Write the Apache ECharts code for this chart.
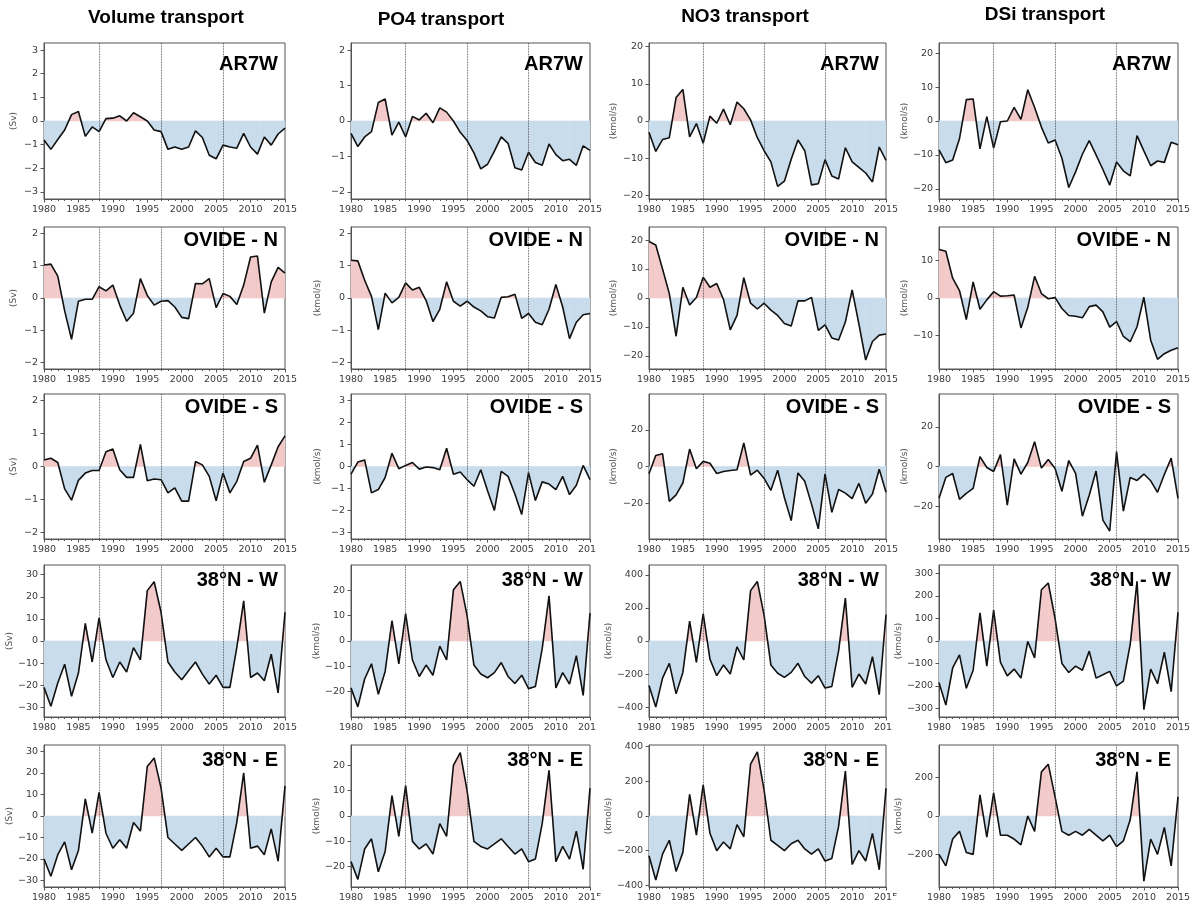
<!DOCTYPE html>
<html><head><meta charset="utf-8">
<script src="https://cdn.jsdelivr.net/npm/echarts@6/dist/echarts.min.js"></script>
<style>html,body{margin:0;padding:0;background:#fff}#c{width:1195px;height:903px}</style>
</head><body><div id="c"></div>
<script>
// ---------- DATA ----------
const years = [1980,1981,1982,1983,1984,1985,1986,1987,1988,1989,1990,1991,1992,1993,1994,1995,1996,1997,1998,1999,2000,2001,2002,2003,2004,2005,2006,2007,2008,2009,2010,2011,2012,2013,2014,2015];
const columnTitles = ['Volume transport','PO4 transport','NO3 transport','DSi transport'];
const sectionNames = ['AR7W','OVIDE - N','OVIDE - S','38°N - W','38°N - E'];
const unitNames = ['(Sv)','(kmol/s)','(kmol/s)','(kmol/s)'];
const periodYears = [1988,1997,2006];

// AR7W
const volAR7W = [-0.8,-1.2,-0.78,-0.38,0.27,0.4,-0.65,-0.25,-0.45,0.1,0.12,0.22,0.0,0.35,0.18,0.0,-0.38,-0.45,-1.2,-1.1,-1.2,-1.1,-0.42,-0.7,-1.45,-1.6,-1.02,-1.1,-1.15,-0.52,-1.1,-1.4,-0.68,-1.02,-0.55,-0.3];
const po4AR7W = [-0.35,-0.72,-0.45,-0.3,0.52,0.62,-0.4,-0.03,-0.45,0.13,0.03,0.22,-0.05,0.37,0.25,0.0,-0.32,-0.55,-0.9,-1.35,-1.22,-0.85,-0.45,-0.63,-1.32,-1.38,-0.88,-1.17,-1.25,-0.65,-0.95,-1.12,-1.08,-1.25,-0.7,-0.83];
const no3AR7W = [-3,-8.2,-5,-4.5,6.3,8.5,-4.3,-0.7,-6,1.3,-0.6,3.2,-1,5.1,3.3,0.3,-4.5,-8,-11,-17.6,-16.2,-10.3,-5.1,-8,-17.2,-16.9,-10.4,-14.8,-15.6,-7.2,-11,-12.5,-14,-16.4,-7,-10.6];
const dsiAR7W = [-8.5,-12.3,-11.5,-5.2,6.3,6.5,-8.2,1.3,-8,-0.2,0.0,4.0,0.5,9.2,4.0,-1.8,-6.5,-5.6,-11,-19.6,-15,-9.8,-5.8,-10,-14.3,-18.9,-12.1,-14.7,-16.2,-4.3,-8.8,-13.2,-11.8,-12.2,-6.3,-7];
// OVIDE - N
const volOVN = [1.02,1.05,0.68,-0.4,-1.28,-0.1,-0.04,-0.04,0.35,0.22,0.4,-0.22,-0.72,-0.47,0.6,0.08,-0.22,-0.1,-0.08,-0.28,-0.6,-0.64,0.45,0.44,0.6,-0.3,0.14,0.05,-0.2,0.4,1.27,1.3,-0.47,0.5,0.95,0.77];
const po4OVN = [1.17,1.15,0.55,0.05,-0.98,0.15,-0.15,0.02,0.47,0.25,0.33,-0.08,-0.73,-0.35,0.5,-0.1,-0.25,-0.1,-0.28,-0.4,-0.58,-0.62,0.02,0.04,0.12,-0.63,-0.48,-0.75,-0.83,-0.35,0.42,-0.28,-1.26,-0.75,-0.52,-0.48];
const no3OVN = [19.5,18.3,10,1.5,-13.2,3.7,-2.4,0.2,7.2,3.7,5,-0.5,-11,-6,7,-1.8,-3.8,-1.8,-4.2,-6,-8.8,-9.7,-1,-1,0.2,-11.2,-9.3,-13.8,-14.5,-8.3,2.8,-9,-21.4,-15,-12.8,-12.4];
const dsiOVN = [13,12.5,5.3,2,-5.8,4.3,-3,-0.5,1.7,0.5,0.6,0.8,-8,-2.5,5.8,1.2,-0.2,0.1,-2.8,-4.7,-4.9,-5.3,-2.3,-1.9,-3.7,-7.8,-6.3,-10.3,-11.7,-7.7,0.2,-11.3,-16.4,-14.9,-14,-13.3];
// OVIDE - S
const volOVS = [0.2,0.25,0.12,-0.68,-1.02,-0.42,-0.2,-0.12,-0.12,0.45,0.53,-0.1,-0.33,-0.33,0.67,-0.43,-0.38,-0.4,-0.8,-0.65,-1.05,-1.05,0.15,0.05,-0.3,-1.04,-0.2,-0.8,-0.45,0.15,0.25,0.65,-0.48,0.05,0.6,0.93];
const po4OVS = [-0.35,0.2,0.3,-1.2,-1.05,-0.5,0.6,-0.1,0.05,0.18,-0.12,-0.02,-0.05,-0.15,0.83,-0.35,-0.25,-0.6,-0.9,-0.15,-1.1,-2.0,-0.22,-0.45,-1.25,-2.18,-0.28,-1.55,-0.7,-0.8,-1.05,-0.45,-1.28,-0.85,0.05,-0.6];
const no3OVS = [-4,6,7,-19,-15.5,-9,9.5,-1.2,2.8,1.8,-3.8,-2.7,-2.2,-1.8,12.8,-4.7,-2,-6.5,-13,-2,-17,-29.5,-3.5,-8,-20.5,-34,-4,-25,-12.5,-14.5,-17.5,-9.2,-20,-15,-1.5,-14];
const dsiOVS = [-16,-5.5,-3.5,-16.5,-13.5,-11,5,-0.5,-2.5,6,-19.5,3.8,-3.8,2,12.5,-0.8,3.5,-1,-12.5,3,-3.5,-25,-14.5,-2.3,-27,-32.5,7.5,-22.5,-5.5,-7,-3.8,-7.2,-13,-4,4.2,-16];
// 38°N - W
const vol38W = [-21,-29.5,-19,-10.5,-25,-14.5,8,-9.5,10.5,-8.5,-16.5,-9.5,-14,-3,-8.5,22.8,26.8,13,-9.5,-14,-17.5,-13.5,-9.5,-15,-19.5,-15.5,-21,-21,-3,18.2,-16.5,-14.5,-18,-6,-23.5,13];
const po438W = [-18.5,-26,-15,-9,-21,-12,8,-9,10.8,-7.5,-14,-9.5,-13.5,-2,-7.5,20.2,23.5,10,-9.5,-13,-14.5,-12.5,-8.5,-14,-16.8,-13.5,-18.8,-18,-3,17.8,-18.5,-12.5,-17,-5.8,-21.5,11];
const no338W = [-270,-400,-225,-135,-320,-190,120,-130,165,-110,-210,-145,-200,-35,-115,305,360,155,-145,-195,-220,-190,-135,-215,-255,-210,-285,-275,-60,260,-280,-200,-260,-95,-325,160];
const dsi38W = [-185,-285,-120,-62,-210,-130,125,-112,137,-95,-155,-125,-165,-2,-75,228,258,100,-100,-140,-112,-130,-45,-165,-150,-135,-200,-178,-15,265,-305,-125,-190,-50,-225,128];
// 38°N - E
const vol38E = [-20,-28,-18,-12,-25,-16,8,-8,11,-8,-15,-11,-15,-3,-7,23,27,13,-10,-13,-16,-13,-10,-14,-19,-15,-19,-19,-3,20,-15,-14,-18,-6,-21,14];
const po438E = [-18,-25,-13,-9,-22,-14,8,-8,12,-10,-13,-11,-15,-3,-8,20,25,10,-10,-12,-13,-11,-9,-12,-15,-13,-18,-17,-3,18,-18,-12,-17,-6,-21,11];
const no338E = [-230,-370,-220,-140,-320,-210,125,-110,180,-100,-200,-150,-190,-50,-120,300,370,150,-140,-170,-200,-160,-140,-190,-220,-190,-260,-245,-60,260,-280,-200,-260,-100,-310,160];
const dsi38E = [-200,-260,-120,-80,-190,-200,110,-110,120,-100,-100,-120,-150,0,-80,230,270,100,-80,-100,-80,-100,-70,-100,-130,-100,-160,-130,-20,230,-340,-120,-200,-60,-260,100];

// y-axis ranges and tick labels (row by row)
const yRanges = [
  [-3.3,3.3],[-2.2,2.2],[-21,21],[-23,23],
  [-2.2,2.2],[-2.2,2.2],[-24.5,24.5],[-19,19],
  [-2.2,2.2],[-3.3,3.3],[-39.5,39.5],[-36.5,36.5],
  [-34.4,34.4],[-30,30],[-460,460],[-338,338],
  [-33,33],[-28,28],[-410,410],[-370,370]
];
const yTickLabels = [
  [-3,-2,-1,0,1,2,3],[-2,-1,0,1,2],[-20,-10,0,10,20],[-20,-10,0,10,20],
  [-2,-1,0,1,2],[-2,-1,0,1,2],[-20,-10,0,10,20],[-10,0,10],
  [-2,-1,0,1,2],[-3,-2,-1,0,1,2,3],[-20,0,20],[-20,0,20],
  [-30,-20,-10,0,10,20,30],[-20,-10,0,10,20],[-400,-200,0,200,400],[-300,-200,-100,0,100,200,300],
  [-30,-20,-10,0,10,20,30],[-20,-10,0,10,20],[-400,-200,0,200,400],[-200,0,200]
];
const panelSeries = [
  volAR7W, po4AR7W, no3AR7W, dsiAR7W,
  volOVN, po4OVN, no3OVN, dsiOVN,
  volOVS, po4OVS, no3OVS, dsiOVS,
  vol38W, po438W, no338W, dsi38W,
  vol38E, po438E, no338E, dsi38E
];
const showUnit = [
  true,false,true,true,
  true,true,true,true,
  true,true,true,true,
  true,true,true,true,
  true,true,true,true
];

// ---------- LAYOUT ----------
const colX = [[44,285],[351,590],[649,886],[939,1178]];
const rowY = [[43,199],[227,369],[394,539],[565,717],[745,893]];
const labelDy = [21,13,13,15,15];
const nameGaps = [26,29,31,29];
const titleX = [166,441,745,1045];
const titleY = [18,20,17,15];
const PINK = '#f3caca';
const BLUE = '#c8dcec';
const AXC = '#555';
const TXT = '#3a3a3a';
const fmt = v => String(v).replace('-', '\u2212');

function piece(points, v) {
  const col = v > 0 ? PINK : BLUE;
  return {type: 'polygon', shape: {points}, style: {fill: col, stroke: col, lineWidth: 0.6}};
}

const grids = [], xAxes = [], yAxes = [], series = [], graphics = [];
for (let r = 0; r < 5; r++) {
  for (let c = 0; c < 4; c++) {
    const i = r * 4 + c;
    const vals = panelSeries[i];
    const [x0, x1] = colX[c];
    const [y0, y1] = rowY[r];
    grids.push({left: x0, top: y0, width: x1 - x0, height: y1 - y0,
      show: true, borderColor: AXC, borderWidth: 1});
    xAxes.push({type: 'value', gridIndex: i, min: 1980, max: 2015, interval: 5,
      axisLine: {show: true, onZero: false, lineStyle: {color: AXC, width: 1}},
      axisTick: {show: true, length: 3.5, lineStyle: {color: AXC}},
      minorTick: {show: true, splitNumber: 5, length: 2, lineStyle: {color: AXC}},
      splitLine: {show: false},
      axisLabel: {fontFamily: 'DejaVu Sans', fontSize: 9.5, color: TXT, margin: 6,
        formatter: v => String(v), showMinLabel: true, showMaxLabel: true}
    });
    const ticks = yTickLabels[i];
    yAxes.push({type: 'value', gridIndex: i, min: yRanges[i][0], max: yRanges[i][1],
      name: showUnit[i] ? unitNames[c] : '', nameLocation: 'middle', nameGap: nameGaps[c],
      nameTextStyle: {fontFamily: 'DejaVu Sans', fontSize: 9, color: '#555'},
      axisLine: {show: true, onZero: false, lineStyle: {color: AXC, width: 1}},
      axisTick: {show: true, length: 3.5, customValues: ticks, lineStyle: {color: AXC}},
      splitLine: {show: false},
      axisLabel: {customValues: ticks, fontFamily: 'DejaVu Sans', fontSize: 9.5, color: TXT, margin: 6, formatter: fmt}
    });
    // shaded area between the curve and zero: pink above, blue below
    series.push({
      type: 'custom', xAxisIndex: i, yAxisIndex: i, z: 2, silent: true, clip: true,
      data: years.map((y, k) => [y, vals[k]]),
      encode: {x: 0, y: 1},
      renderItem: (params, api) => {
        const k = params.dataIndex;
        if (k >= years.length - 1) return null;
        const v0 = vals[k], v1 = vals[k + 1];
        const p0 = api.coord([years[k], v0]);
        const p1 = api.coord([years[k + 1], v1]);
        const b0 = api.coord([years[k], 0]);
        const b1 = api.coord([years[k + 1], 0]);
        if ((v0 >= 0 && v1 >= 0) || (v0 <= 0 && v1 <= 0)) {
          return piece([p0, p1, b1, b0], v0 + v1);
        }
        // the segment crosses zero: split at the pixel where the drawn line meets the baseline
        const t = (b0[1] - p0[1]) / (p1[1] - p0[1]);
        const cp = [p0[0] + t * (p1[0] - p0[0]), b0[1]];
        return {type: 'group', children: [piece([p0, cp, b0], v0), piece([cp, p1, b1], v1)]};
      }
    });
    // the time series line + period markers
    series.push({
      type: 'line', xAxisIndex: i, yAxisIndex: i,
      data: years.map((y, k) => [y, vals[k]]),
      showSymbol: false, symbol: 'none', smooth: false,
      lineStyle: {color: '#111', width: 1.6},
      itemStyle: {color: '#111'},
      z: 3,
      markLine: {silent: true, symbol: 'none', label: {show: false},
        lineStyle: {type: 'dotted', color: '#333', width: 0.8},
        data: periodYears.map(y => ({xAxis: y}))}
    });
    graphics.push({type: 'text', x: x1 - 7, y: y0 + labelDy[r], z: 100,
      style: {text: sectionNames[r], align: 'right', verticalAlign: 'middle',
        font: 'bold 20px "Liberation Sans", Arial, sans-serif', fill: '#000'}});
  }
}
for (let c = 0; c < 4; c++) {
  graphics.push({type: 'text', x: titleX[c], y: titleY[c], z: 100,
    style: {text: columnTitles[c], align: 'center', verticalAlign: 'middle',
      font: 'bold 19px "Liberation Sans", Arial, sans-serif', fill: '#000'}});
}
// the reference figure is cropped just right of some panels: last digit of "2015" cut off
[[2,1],[3,1],[4,1],[3,2],[4,2]].forEach(([r, c]) => {
  graphics.push({type: 'rect', z: 200,
    shape: {x: colX[c][1] + 6, y: rowY[r][1] + 3, width: 12, height: 13},
    style: {fill: '#fff'}});
});

const chart = echarts.init(document.getElementById('c'), null, {renderer: 'canvas'});
chart.setOption({
  animation: false,
  backgroundColor: '#fff',
  grid: grids, xAxis: xAxes, yAxis: yAxes, series: series,
  graphic: graphics
});
</script>
</body></html>
